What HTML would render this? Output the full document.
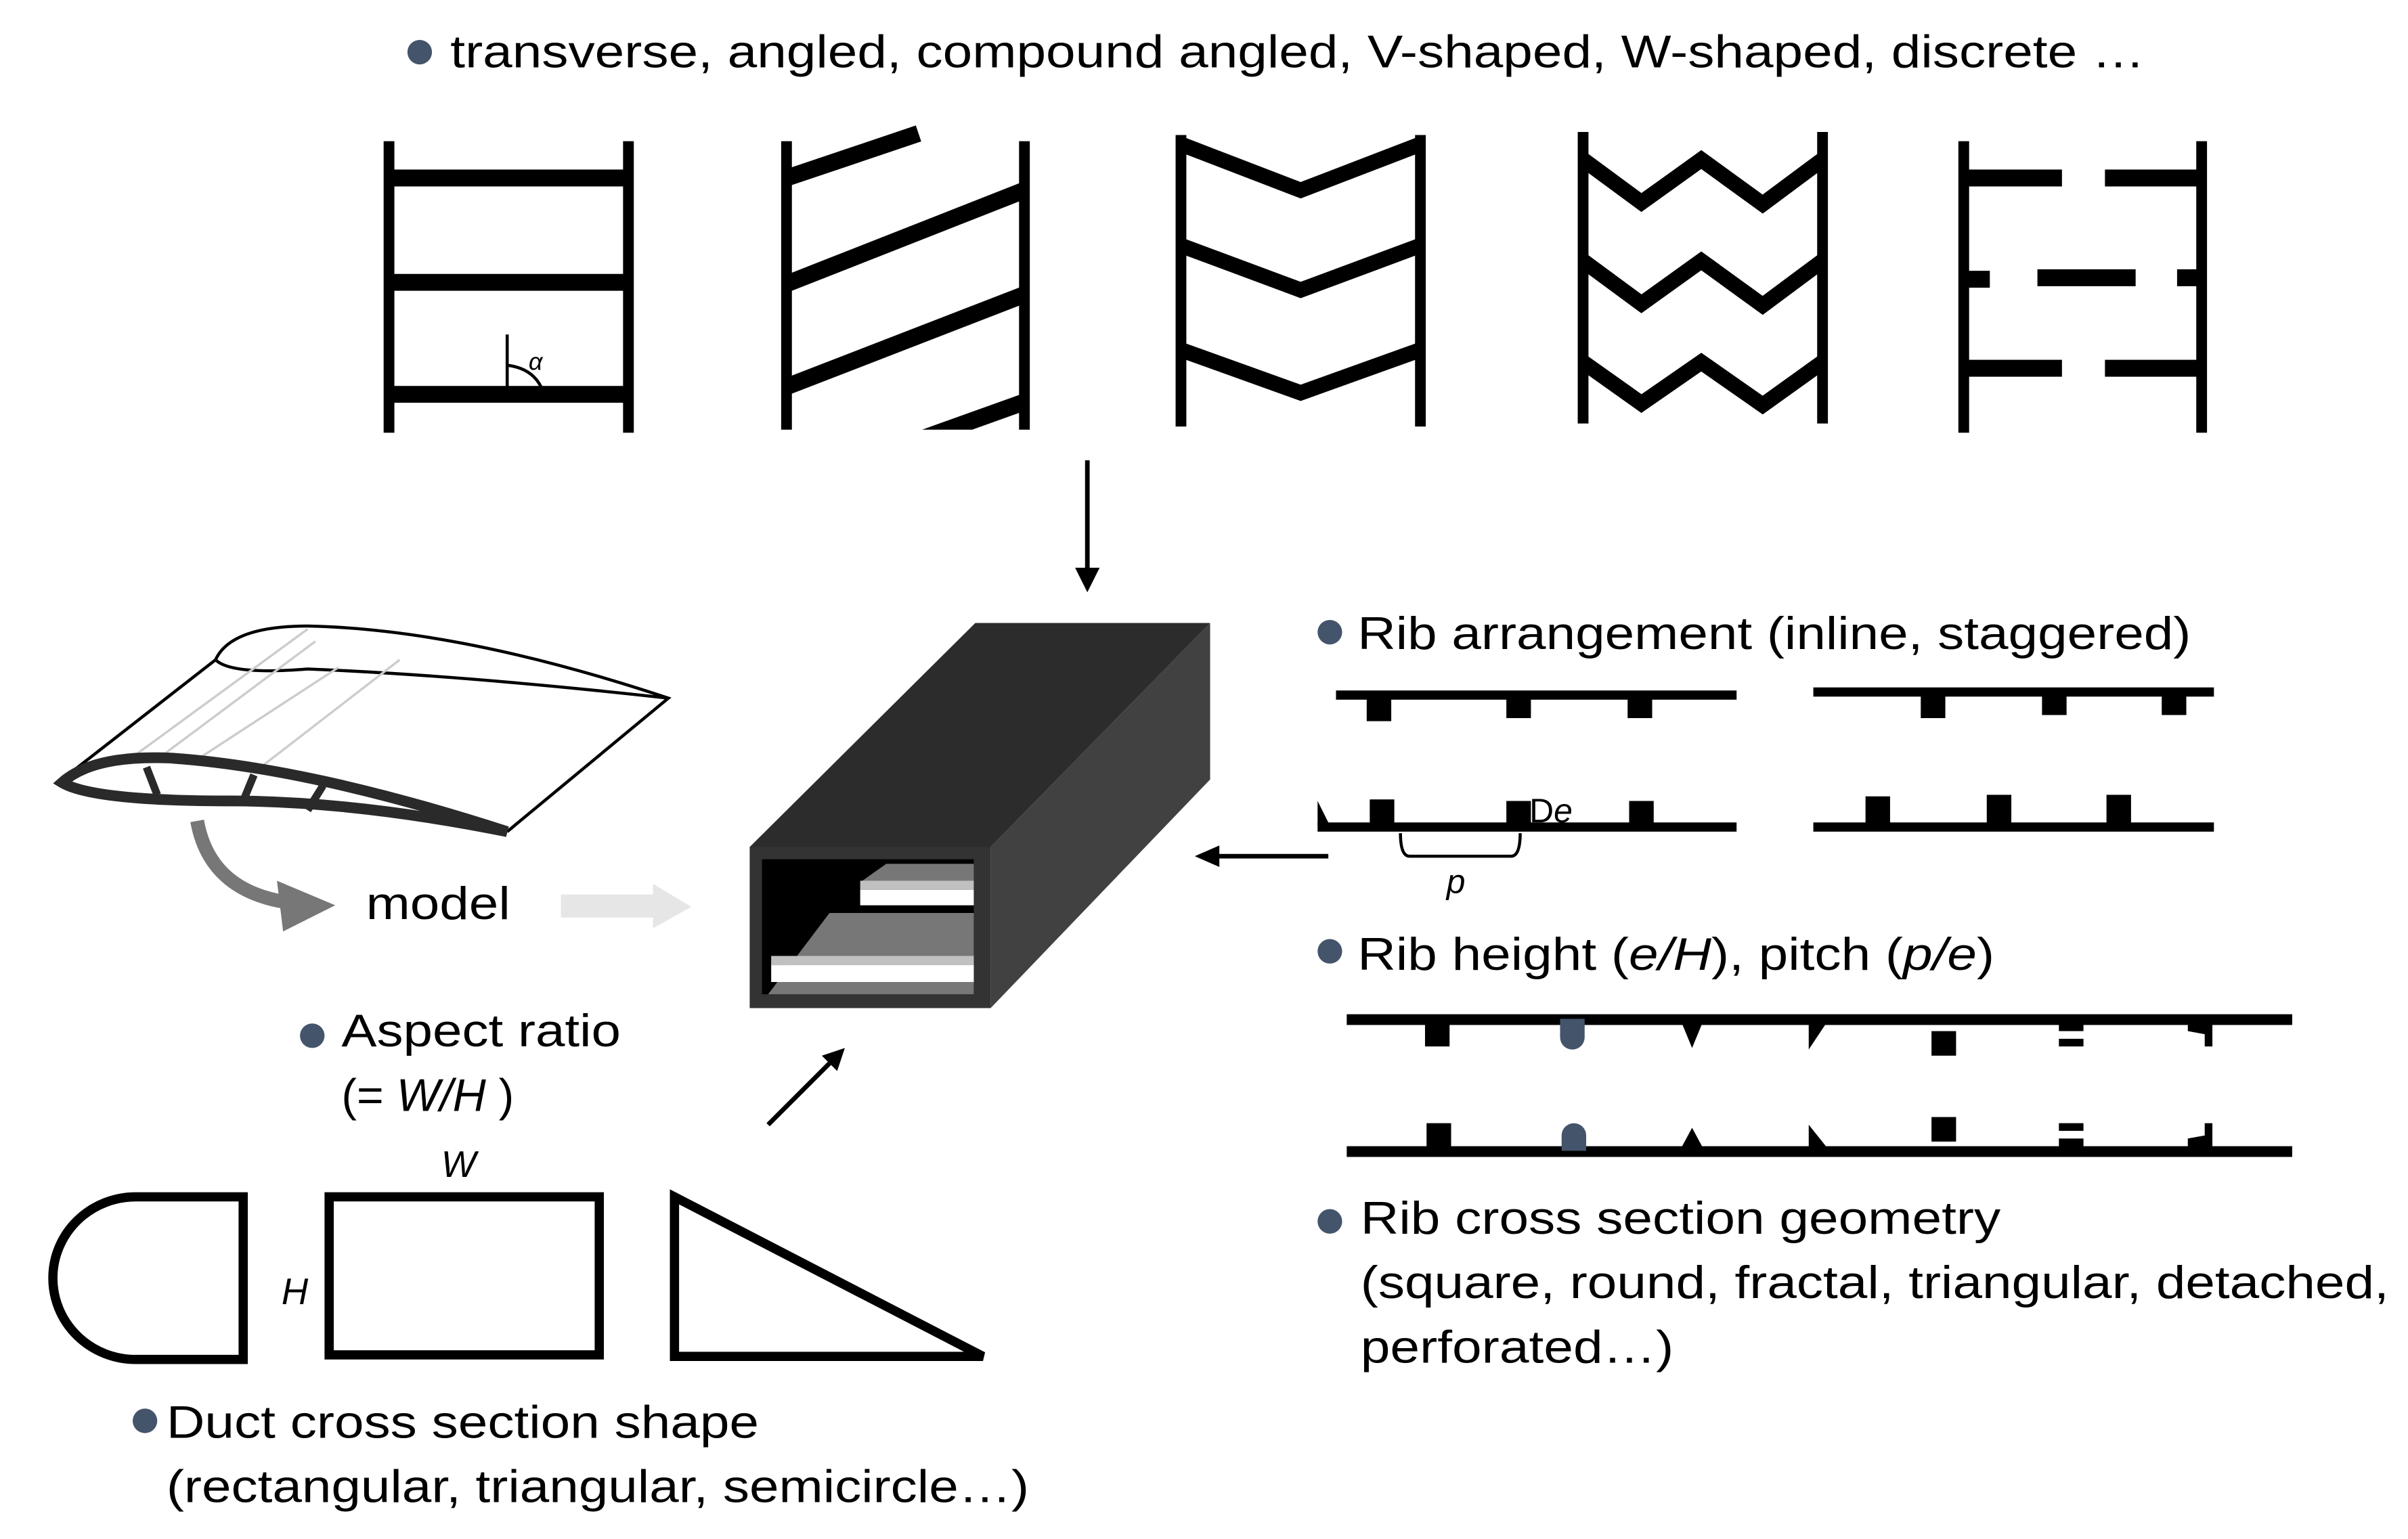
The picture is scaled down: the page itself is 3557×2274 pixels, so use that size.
<!DOCTYPE html>
<html><head><style>html,body{margin:0;padding:0;background:#fff}svg{display:block}</style></head>
<body>
<svg width="3557" height="2274" viewBox="0 0 1568 1003" xmlns="http://www.w3.org/2000/svg" font-family="Liberation Sans, sans-serif">
<defs><clipPath id="ac"><rect x="500" y="60" width="180" height="220"/></clipPath></defs>
<rect width="1568" height="1003" fill="#fff"/>
<g fill="#44546a">
<circle cx="273" cy="34" r="8"/><circle cx="866" cy="412" r="8"/><circle cx="866" cy="620" r="8"/>
<circle cx="866" cy="796" r="8"/><circle cx="203" cy="675" r="8"/><circle cx="94" cy="926" r="8"/>
</g>
<g font-size="30" fill="#000">
<text x="293" y="44" textLength="1104" lengthAdjust="spacingAndGlyphs">transverse, angled, compound angled, V-shaped, W-shaped, discrete …</text>
<text x="884" y="423" textLength="543" lengthAdjust="spacingAndGlyphs">Rib arrangement (inline, staggered)</text>
<text x="884" y="632" textLength="415" lengthAdjust="spacingAndGlyphs">Rib height (<tspan font-style="italic">e/H</tspan>), pitch (<tspan font-style="italic">p/e</tspan>)</text>
<text x="886" y="804" textLength="417" lengthAdjust="spacingAndGlyphs">Rib cross section geometry</text>
<text x="886" y="846" textLength="670" lengthAdjust="spacingAndGlyphs">(square, round, fractal, triangular, detached,</text>
<text x="886" y="888" textLength="204" lengthAdjust="spacingAndGlyphs">perforated…)</text>
<text x="222" y="682" textLength="182" lengthAdjust="spacingAndGlyphs">Aspect ratio</text>
<text x="222" y="724">(= <tspan font-style="italic">W/H</tspan> )</text>
<text x="108" y="937" textLength="386" lengthAdjust="spacingAndGlyphs">Duct cross section shape</text>
<text x="108" y="979" textLength="562" lengthAdjust="spacingAndGlyphs">(rectangular, triangular, semicircle…)</text>
<text x="238" y="599" textLength="94" lengthAdjust="spacingAndGlyphs">model</text>
</g>
<g stroke="#000" fill="none">
<g stroke-width="7"><line x1="253" y1="92" x2="253" y2="282"/><line x1="409" y1="92" x2="409" y2="282"/>
<line x1="512" y1="92" x2="512" y2="280"/><line x1="667" y1="92" x2="667" y2="280"/>
<line x1="769" y1="88" x2="769" y2="278"/><line x1="925" y1="88" x2="925" y2="278"/>
<line x1="1031" y1="86" x2="1031" y2="276"/><line x1="1187" y1="86" x2="1187" y2="276"/>
<line x1="1279" y1="92" x2="1279" y2="282"/><line x1="1434" y1="92" x2="1434" y2="282"/></g>
<g stroke-width="11"><line x1="253" y1="116" x2="409" y2="116"/><line x1="253" y1="184" x2="409" y2="184"/><line x1="253" y1="257" x2="409" y2="257"/>
<g clip-path="url(#ac)"><line x1="512" y1="116" x2="598" y2="87"/><line x1="512" y1="185" x2="667" y2="124"/><line x1="512" y1="252" x2="667" y2="192"/><line x1="600" y1="286" x2="667" y2="262"/></g>
<line x1="1279" y1="116" x2="1343" y2="116"/><line x1="1371" y1="116" x2="1434" y2="116"/>
<line x1="1279" y1="182" x2="1296" y2="182"/><line x1="1327" y1="181" x2="1391" y2="181"/><line x1="1418" y1="181" x2="1434" y2="181"/>
<line x1="1279" y1="240" x2="1343" y2="240"/><line x1="1371" y1="240" x2="1434" y2="240"/></g>
<g stroke-width="10" stroke-linejoin="miter">
<polyline points="769,94 847,124 925,94"/><polyline points="769,160 847,189 925,160"/><polyline points="769,228 847,256 925,228"/>
<polyline points="1031,104 1069,132 1108,104 1148,133 1187,104"/><polyline points="1031,170 1069,198 1108,170 1148,199 1187,170"/><polyline points="1031,236 1069,263 1108,236 1148,264 1187,236"/></g>
<line x1="330" y1="218" x2="330" y2="252" stroke-width="2"/>
<path d="M330,238 Q346,240 352,252" stroke-width="2"/>
</g>
<text x="344" y="241" font-size="16" font-style="italic">α</text>
<g stroke="#000" stroke-width="3"><line x1="708" y1="300" x2="708" y2="372"/><line x1="865" y1="558" x2="792" y2="558"/><line x1="500" y1="733" x2="540" y2="693"/></g>
<polygon points="700,370 716,370 708,386" fill="#000"/>
<polygon points="794,551 794,565 778,558" fill="#000"/>
<polygon points="535,688 550,683 545,698" fill="#000"/>
<polygon points="365,583 425,583 425,576 450,591 425,605 425,598 365,598" fill="#e6e6e6"/>
<path d="M128,535 Q136,580 186,588" stroke="#777" stroke-width="9" fill="none"/>
<polygon points="180,574 218,590 184,607" fill="#777"/>
<polygon points="488,552 635,406 788,406 645,552" fill="#2c2c2c"/>
<polygon points="645,552 788,406 788,508 645,657" fill="#414141"/>
<rect x="488" y="552" width="157" height="105" fill="#333"/>
<rect x="496" y="560" width="138" height="88" fill="#000"/>
<polygon points="500,648 540,595 634,595 634,648" fill="#777"/>
<polygon points="560,575 577,563 634,563 634,575" fill="#777"/>
<rect x="560" y="574" width="74" height="6" fill="#c0c0c0"/><rect x="560" y="580" width="74" height="10" fill="#fff"/>
<rect x="502" y="623" width="132" height="6" fill="#c0c0c0"/><rect x="502" y="629" width="132" height="11" fill="#fff"/>
<path d="M40,508 L140,430 Q150,408 200,408 Q300,410 435,455 L330,542" fill="#fff" stroke="#000" stroke-width="2"/>
<path d="M140,430 Q150,440 200,436 Q300,440 435,455" fill="none" stroke="#000" stroke-width="2"/>
<g stroke="#ccc" fill="none" stroke-width="1.5"><path d="M70,505 L200,410 M105,510 L220,435 M95,500 L205,418 M150,515 L260,430"/></g>
<path d="M40,510 Q60,492 110,494 Q200,500 330,542 Q230,522 150,522 Q60,522 40,510 Z" fill="#fff" stroke="#2a2a2a" stroke-width="7"/>
<g stroke="#2a2a2a" stroke-width="5"><line x1="95" y1="500" x2="102" y2="518"/><line x1="165" y1="505" x2="158" y2="522"/><line x1="210" y1="512" x2="200" y2="528"/></g>
<g fill="#000">
<rect x="870" y="450" width="261" height="6"/><rect x="890" y="453" width="16" height="17"/><rect x="981" y="453" width="16" height="15"/><rect x="1060" y="453" width="16" height="15"/>
<rect x="858" y="536" width="273" height="6"/><rect x="892" y="521" width="16" height="17"/><rect x="981" y="522" width="16" height="16"/><rect x="1061" y="522" width="16" height="16"/>
<polygon points="858,522 858,538 866,538"/>
<rect x="1181" y="448" width="261" height="6"/><rect x="1251" y="451" width="16" height="17"/><rect x="1330" y="451" width="16" height="15"/><rect x="1408" y="451" width="16" height="15"/>
<rect x="1181" y="536" width="261" height="6"/><rect x="1215" y="519" width="16" height="18"/><rect x="1294" y="518" width="16" height="19"/><rect x="1372" y="518" width="16" height="19"/>
<rect x="877" y="661" width="616" height="7"/><rect x="877" y="747" width="616" height="7"/>
<rect x="928" y="664" width="16" height="18"/><rect x="929" y="732" width="16" height="18"/>
<path d="M1016,664 h16 v12 a8,8 0 0 1 -16,0 Z" fill="#44546a"/><path d="M1017,750 v-10 a8,8 0 0 1 16,0 v10 Z" fill="#44546a"/>
<polygon points="1095,666 1109,666 1102,683"/><polygon points="1095,748 1109,748 1102,735"/>
<polygon points="1178,666 1190,666 1178,684"/><polygon points="1178,748 1190,748 1178,733"/>
<rect x="1258" y="672" width="16" height="16"/><rect x="1258" y="728" width="16" height="16"/>
<rect x="1341" y="666" width="16" height="6"/><rect x="1341" y="677" width="16" height="5"/><rect x="1341" y="732" width="16" height="5"/><rect x="1341" y="742" width="16" height="6"/>
<polygon points="1425,666 1441,666 1441,682 1436,682 1436,674 1425,672"/><polygon points="1425,748 1441,748 1441,732 1436,732 1436,740 1425,742"/>
</g>
<path d="M912,543 Q912,558 918,558 L984,558 Q990,558 990,543" fill="none" stroke="#000" stroke-width="2"/>
<text x="942" y="582" font-size="22" font-style="italic">p</text>
<text x="996" y="536" font-size="22">D<tspan font-style="italic">e</tspan></text>
<g fill="none" stroke="#000" stroke-width="6">
<path d="M158,780 L158,886 L88,886 A54,53 0 0 1 88,780 Z"/>
<rect x="214" y="780" width="176" height="103"/>
<polygon points="439,780 439,884 640,884"/>
</g>
<text x="287" y="767" font-size="24" font-style="italic">W</text>
<text x="183" y="850" font-size="24" font-style="italic">H</text>
</svg>
</body></html>
